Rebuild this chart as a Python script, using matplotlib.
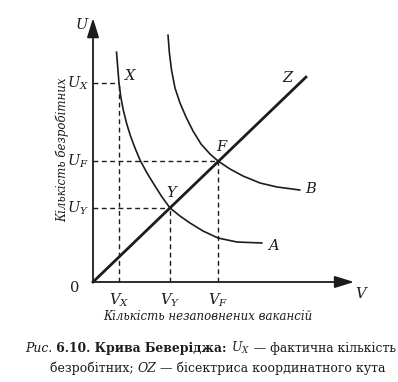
"""
Beveridge curve diagram (Рис. 6.10), rebuilt with matplotlib.
Output: out.png (398 x 382 px)
"""

import matplotlib
matplotlib.use("Agg")
import matplotlib.pyplot as plt

plt.rcParams["font.family"] = ["DejaVu Serif"]
plt.rcParams["mathtext.fontset"] = "dejavuserif"

INK = "#1c1c1c"

# ── Data (chart units: 1 unit = 26 px, origin at the axes corner) ────────────
CURVE_A_V = [0.904, 0.950, 1.000, 1.069, 1.165, 1.288, 1.442, 1.615, 1.808, 2.077,
             2.385, 2.654, 2.962, 3.346, 3.731, 4.231, 4.808, 5.538, 6.500]
CURVE_A_U = [8.846, 8.269, 7.654, 7.115, 6.615, 6.115, 5.615, 5.154, 4.692, 4.192,
             3.692, 3.269, 2.846, 2.538, 2.269, 1.962, 1.692, 1.538, 1.500]

CURVE_B_V = [2.885, 2.935, 3.019, 3.154, 3.346, 3.577, 3.846, 4.154, 4.500, 4.808,
             5.269, 5.769, 6.423, 7.077, 7.962]
CURVE_B_U = [9.500, 8.846, 8.154, 7.462, 6.885, 6.346, 5.808, 5.308, 4.923, 4.654,
             4.346, 4.077, 3.808, 3.654, 3.538]

BISECTOR_V = [0.0, 8.19]
BISECTOR_U = [0.0, 7.88]

POINT_NAMES = ["X", "Y", "F"]
POINT_V = [1.00, 2.96, 4.81]
POINT_U = [7.65, 2.85, 4.65]

U_TICK_LABELS = [r"$U_X$", r"$U_Y$", r"$U_F$"]
V_TICK_LABELS = [r"$V_X$", r"$V_Y$", r"$V_F$"]

AXIS_V_MAX = 10.04
AXIS_U_MAX = 10.15


def px_x(px):
    return (px - 93) / 26


def px_y(py):
    return (282 - py) / 26


def main():
    fig = plt.figure(figsize=(3.98, 3.82), dpi=100)
    ax = fig.add_axes([0, 0, 1, 1])
    ax.set_xlim(px_x(0), px_x(398))
    ax.set_ylim(px_y(382), px_y(0))
    ax.axis("off")

    # ── Axes with arrows ─────────────────────────────────────────────────────
    arrow = dict(arrowstyle="-|>,head_length=0.9,head_width=0.28",
                 color=INK, lw=1.3, mutation_scale=13, shrinkA=0, shrinkB=0)
    ax.annotate("", xy=(0, AXIS_U_MAX), xytext=(0, 0), arrowprops=arrow)
    ax.annotate("", xy=(AXIS_V_MAX, 0), xytext=(0, 0), arrowprops=arrow)

    # ── Dashed guide lines ───────────────────────────────────────────────────
    for v, u in zip(POINT_V, POINT_U):
        ax.plot([0, v], [u, u], color=INK, lw=1.0, ls=(0, (3.5, 2.5)))
        ax.plot([v, v], [0, u], color=INK, lw=1.0, ls=(0, (3.5, 2.5)))

    # ── Curves and bisector ──────────────────────────────────────────────────
    curve = dict(color=INK, lw=1.2, solid_capstyle="round", solid_joinstyle="round")
    ax.plot(CURVE_A_V, CURVE_A_U, **curve)
    ax.plot(CURVE_B_V, CURVE_B_U, **curve)
    ax.plot(BISECTOR_V, BISECTOR_U, color=INK, lw=2.0)

    # ── Labels on the chart ──────────────────────────────────────────────────
    lab = dict(fontsize=10.5, style="italic", color=INK, ha="center", va="center")
    ax.text(px_x(82), px_y(25), "U", **lab)
    ax.text(px_x(75), px_y(288), "0", fontsize=10.5, color=INK, ha="center", va="center")
    ax.text(px_x(361), px_y(294), "V", **lab)

    name_pos = {"X": (130, 76), "Y": (171, 193), "F": (221, 147)}
    for name in POINT_NAMES:
        x, y = name_pos[name]
        ax.text(px_x(x), px_y(y), name, **lab)
    ax.text(px_x(287), px_y(78), "Z", **lab)
    ax.text(px_x(311), px_y(189), "B", **lab)
    ax.text(px_x(273), px_y(246), "A", **lab)

    for u, t in zip(POINT_U, U_TICK_LABELS):
        ax.text(px_x(89), u, t, fontsize=10.5, color=INK, ha="right", va="center")
    for v, t in zip(POINT_V, V_TICK_LABELS):
        ax.text(v, px_y(300), t, fontsize=10.5, color=INK, ha="center", va="center")

    ax.text(px_x(62), px_y(150), "Кількість безробітних", rotation=90,
            fontsize=8.5, style="italic", color=INK, ha="center", va="center")
    ax.text(px_x(208), px_y(316), "Кількість незаповнених вакансій",
            fontsize=8.5, style="italic", color=INK, ha="center", va="center")

    # ── Caption (mixed styles, pieces chained along the baseline) ────────────
    fig.canvas.draw()
    renderer = fig.canvas.get_renderer()

    def caption_line(x0, y0, pieces, size):
        x = x0
        for txt, kw in pieces:
            t = fig.text(x / 398, 1 - y0 / 382, txt, fontsize=size, color=INK,
                         ha="left", va="baseline", **kw)
            x = t.get_window_extent(renderer).x1
        return x

    caption_line(25, 352, [
        ("Рис.", dict(style="italic")),
        (" 6.10. Крива Беверіджа: ", dict(weight="bold")),
        (r"$U_X$", {}),
        (" — фактична кількість", {}),
    ], 8.9)
    caption_line(50, 372, [
        ("безробітних; ", {}),
        ("OZ", dict(style="italic")),
        (" — бісектриса координатного кута", {}),
    ], 9.0)

    fig.savefig("out.png", dpi=100)


if __name__ == "__main__":
    main()
